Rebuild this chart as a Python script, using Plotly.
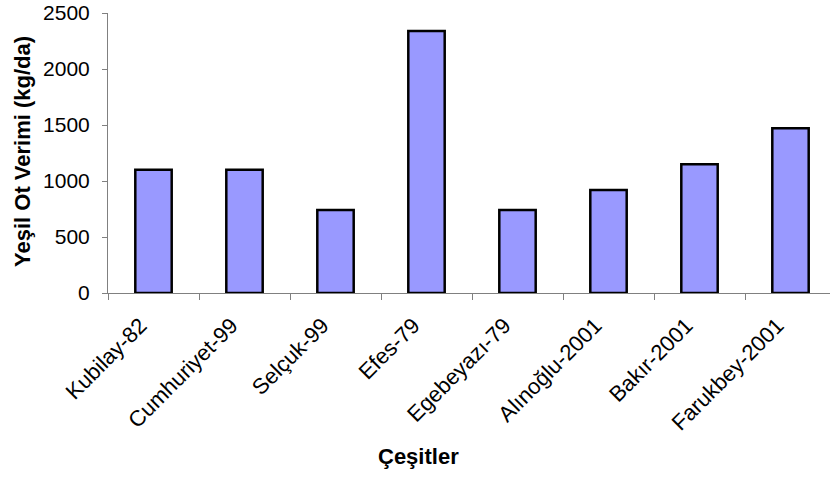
import plotly.graph_objects as go

# Green herbage yield by variety
cesitler = ["Kubilay-82", "Cumhuriyet-99", "Selçuk-99", "Efes-79",
            "Egebeyazı-79", "Alınoğlu-2001", "Bakır-2001", "Farukbey-2001"]
verim = [1100, 1100, 740, 2340, 740, 920, 1150, 1470]
y_ticks = [0, 500, 1000, 1500, 2000, 2500]

W, H = 830, 479
L, T, B = 108, 13, 186
plot_w = W - L
cat_px = 91.0

fig = go.Figure(go.Bar(
    x=cesitler, y=verim, width=0.4,
    marker=dict(color="#9999FF", line=dict(color="black", width=2.5)),
))

axis_col = "#808080"
fig.update_layout(
    width=W, height=H,
    margin=dict(l=L, r=0, t=T, b=B, pad=0),
    plot_bgcolor="white", paper_bgcolor="white",
    showlegend=False,
    font=dict(family="Liberation Sans, Arial, sans-serif", color="black", size=21),
    xaxis=dict(
        range=[-0.5, -0.5 + plot_w / cat_px],
        showline=True, linecolor=axis_col, linewidth=1,
        ticks="outside", ticklen=6, tickcolor=axis_col, tickson="boundaries",
        tickangle=-45, tickfont=dict(size=22),
        ticklabelstandoff=10, ticklabelshift=-13,
        showgrid=False, zeroline=False,
    ),
    yaxis=dict(
        range=[0, 2500], tickvals=y_ticks,
        showline=True, linecolor=axis_col, linewidth=1,
        ticks="outside", ticklen=5, tickcolor=axis_col,
        ticklabelstandoff=8, tickfont=dict(size=21),
        showgrid=False, zeroline=False,
    ),
    annotations=[
        dict(text="<b>Yeşil Ot Verimi (kg/da)</b>", textangle=-90,
             xref="paper", yref="paper",
             x=(22 - L) / plot_w, y=(H - B - 152) / (H - B - T),
             showarrow=False,
             font=dict(size=22), xanchor="center", yanchor="middle"),
        dict(text="<b>Çeşitler</b>",
             xref="paper", yref="paper",
             x=(418 - L) / plot_w, y=-(456 - (H - B)) / (H - B - T),
             showarrow=False, font=dict(size=22),
             xanchor="center", yanchor="middle"),
    ],
)

fig.write_html("out.html")
